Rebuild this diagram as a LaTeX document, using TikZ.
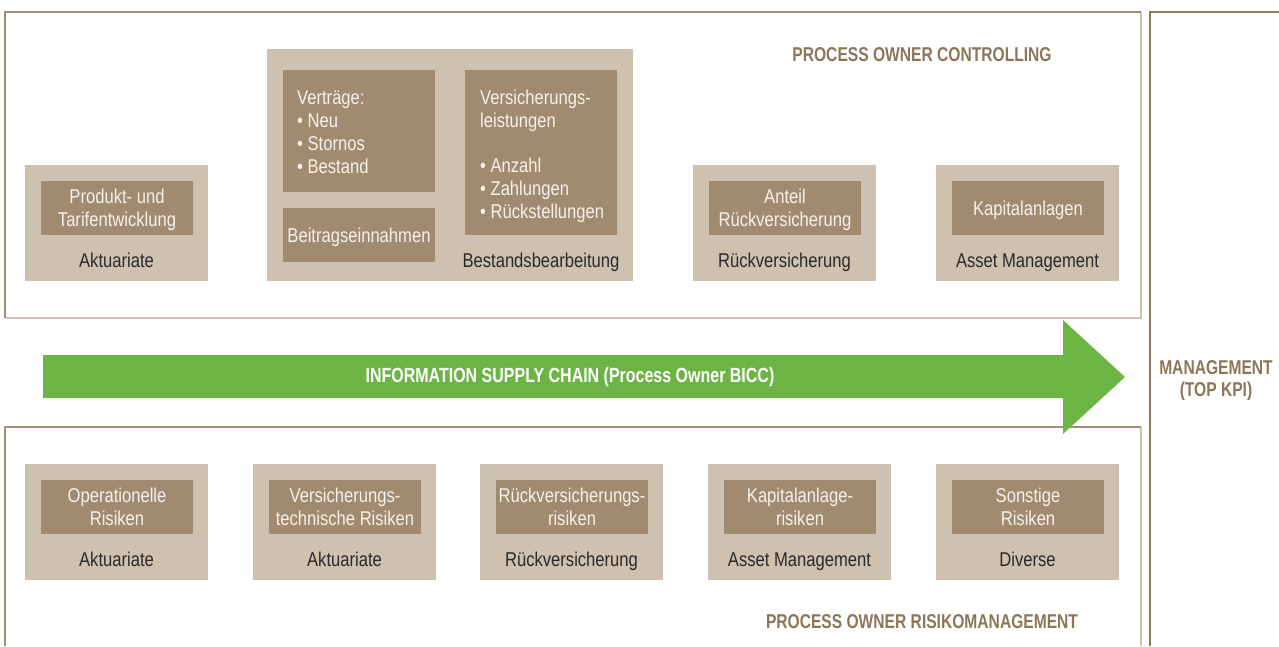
\documentclass[tikz,border=0pt]{standalone}
\usepackage{fontspec}
\setmainfont{Liberation Sans}[FakeStretch=0.83]
\newfontfamily\headfont{Liberation Sans}[FakeStretch=0.78]

\definecolor{framedark}{HTML}{9E8F78}
\definecolor{framelight}{HTML}{CFC4B4}
\definecolor{mgmtline}{HTML}{8E7A58}
\definecolor{boxlight}{HTML}{CEC1AF}
\definecolor{boxdark}{HTML}{A08B71}
\definecolor{boxtext}{HTML}{F6F1E9}
\definecolor{headtan}{HTML}{8C7658}
\definecolor{chaingreen}{HTML}{6CB545}
\definecolor{labelgray}{HTML}{2A2A2A}

\tikzset{
  outerbox/.style={fill=boxlight, inner sep=0pt},
  innerbox/.style={fill=boxdark, text=boxtext, inner sep=0pt, align=center,
    text depth=0pt, font=\fontsize{20}{23}\selectfont},
  listtext/.style={text=boxtext, inner sep=0pt, align=left, anchor=north west,
    font=\fontsize{20}{23}\selectfont},
  unitlabel/.style={text=labelgray, anchor=base, font=\fontsize{20}{23}\selectfont},
  headline/.style={text=headtan, align=center,
    font=\headfont\bfseries\fontsize{20}{22}\selectfont},
  chaintext/.style={text=white, font=\headfont\bfseries\fontsize{20.5}{22}\selectfont},
  frametop/.style={draw=framedark, line width=1.4pt},
  framebot/.style={draw=framelight, line width=1.4pt}
}

\begin{document}
\begin{tikzpicture}[x=1pt, y=-1pt]
\useasboundingbox (0,0) rectangle (1279,646);

% frames
\draw[framebot] (1141,12) -- (1141,318) -- (5,318);
\draw[frametop] (5,318) -- (5,12) -- (1141,12);
\draw[framebot] (1141,427) -- (1141,646);
\draw[frametop] (5,646) -- (5,427) -- (1141,427);
\draw[draw=mgmtline, line width=1.4pt] (1279,12) -- (1150,12) -- (1150,646);

% controlling
\node[headline, anchor=base] (controlling) at (922,61.5) {PROCESS OWNER CONTROLLING};

\node[outerbox, minimum width=183pt, minimum height=116pt] (aktBox) at (116.5,223) {};
\node[innerbox, minimum width=152pt, minimum height=54pt] (produkt) at (117,208) {Produkt- und\\Tarifentwicklung};
\node[unitlabel] (aktLabel) at (116.5,267) {Aktuariate};

\node[outerbox, minimum width=366pt, minimum height=232pt] (bestBox) at (450,165) {};
\node[innerbox, minimum width=152pt, minimum height=122pt] (vertraegeBox) at (359,131) {};
\node[listtext] (vertraege) at (297,91) {Verträge:\\• Neu\\• Stornos\\• Bestand};
\node[innerbox, minimum width=152pt, minimum height=54pt] (beitrag) at (359,235) {Beitragseinnahmen};
\node[innerbox, minimum width=152pt, minimum height=165pt] (leistungBox) at (541,152.5) {};
\node[listtext] (leistung) at (480,90)
  {Versicherungs-\\leistungen\\[22pt]• Anzahl\\• Zahlungen\\• Rückstellungen};
\node[unitlabel] (bestLabel) at (541,267) {Bestandsbearbeitung};

\node[outerbox, minimum width=183pt, minimum height=116pt] (rueckBox) at (784.5,223) {};
\node[innerbox, minimum width=152pt, minimum height=54pt] (anteil) at (785,208) {Anteil\\Rückversicherung};
\node[unitlabel] (rueckLabel) at (784.5,267) {Rückversicherung};

\node[outerbox, minimum width=183pt, minimum height=116pt] (assetBox) at (1027.5,223) {};
\node[innerbox, minimum width=152pt, minimum height=54pt] (kapital) at (1028,208) {Kapitalanlagen};
\node[unitlabel] (assetLabel) at (1027.5,267) {Asset Management};

% information supply chain
\fill[chaingreen] (43,355) -- (1063,355) -- (1063,320) -- (1125,377)
  -- (1063,434) -- (1063,398) -- (43,398) -- cycle;
\node[chaintext] (chain) at (570,377) {INFORMATION SUPPLY CHAIN (Process Owner BICC)};

\node[headline] (mgmt) at (1216,381) {MANAGEMENT\\(TOP KPI)};

% risikomanagement
\foreach \x/\name/\risk/\dept in {
    116.5/oprisk/{Operationelle\\Risiken}/Aktuariate,
    344.5/vtrisk/{Versicherungs-\\technische Risiken}/Aktuariate,
    571.5/rvrisk/{Rückversicherungs-\\risiken}/Rückversicherung,
    799.5/karisk/{Kapitalanlage-\\risiken}/Asset Management,
    1027.5/sorisk/{Sonstige\\Risiken}/Diverse}
{
  \node[outerbox, minimum width=183pt, minimum height=116pt] (\name Box) at (\x,522) {};
  \node[innerbox, minimum width=152pt, minimum height=54pt] (\name) at (\x+0.5,507) {\risk};
  \node[unitlabel] (\name Label) at (\x,566.5) {\dept};
}

\node[headline, anchor=base] (risiko) at (922,628) {PROCESS OWNER RISIKOMANAGEMENT};
\end{tikzpicture}
\end{document}
